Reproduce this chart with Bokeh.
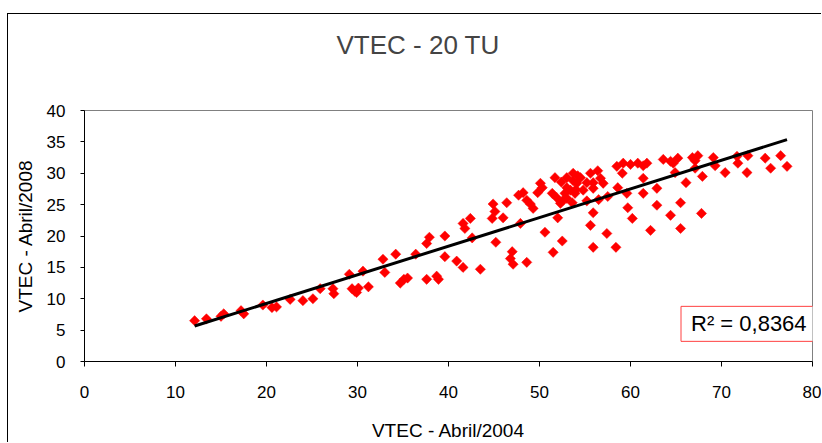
import numpy as np
from bokeh.plotting import figure
from bokeh.models import Label, Range1d, SingleIntervalTicker, ColumnDataSource, Title
from bokeh.embed import file_html
from bokeh.resources import INLINE

title_text = "VTEC - 20 TU"
x_label = "VTEC - Abril/2004"
y_label = "VTEC - Abril/2008"
r2_text = "R\u00b2 = 0,8364"

vtec_2004 = [12.1, 13.4, 15.0, 15.3, 17.2, 17.5, 19.6, 20.6, 21.1, 22.6, 24.0, 25.1, 25.9, 27.3, 27.4,
             29.1, 29.4, 29.7, 30.1, 29.9, 30.6, 31.2, 32.8, 33.0, 34.2, 34.7, 35.1, 35.5, 36.4, 37.6,
             37.6, 37.9, 38.7, 38.9, 39.6, 39.6, 40.9, 41.6, 41.6, 41.8, 42.4, 42.6, 43.5, 44.9, 45.1,
             44.8, 45.2, 46.0, 46.4, 47.0, 46.8, 47.1, 47.7, 48.2, 48.6, 49.0, 49.3, 47.9, 48.6, 49.8,
             50.1, 50.3, 50.6, 51.5, 51.4, 51.7, 52.0, 52.5,
             52.4, 53.0, 53.0, 53.4, 53.7, 53.7, 54.0, 54.1, 54.2, 54.5, 54.8, 55.2, 55.6, 55.9, 55.9,
             56.4, 56.7, 57.0, 52.8, 53.0, 53.9, 53.6, 52.6, 52.3, 51.9, 55.2, 56.5, 57.5,
             55.9, 55.6, 55.9, 57.4, 58.4, 58.5, 59.2, 60.0, 60.8, 61.4, 61.8, 59.1, 58.6, 59.6, 59.7,
             60.2, 61.4, 61.4, 62.2, 62.9, 62.9, 63.6, 64.4, 64.4, 65.2, 64.7, 64.9, 65.5, 65.5, 66.1,
             66.8, 67.4, 67.1, 67.1, 67.8, 67.9, 69.1, 69.3, 70.4, 71.7, 71.8, 72.8, 72.9, 74.8, 75.4,
             76.5, 77.2]
vtec_2008 = [6.5, 6.8, 7.2, 7.6, 8.1, 7.6, 9.0, 8.6, 8.7, 9.9, 9.7, 10.0, 11.6, 11.6, 10.8,
             13.9, 11.6, 11.2, 11.7, 11.0, 14.4, 11.9, 16.3, 14.2, 17.1, 12.5, 13.1, 13.3, 17.1, 13.1,
             18.8, 19.8, 13.6, 13.1, 20.0, 16.7, 16.0, 15.0, 22.0, 21.2, 22.8, 19.7, 14.7, 25.1, 23.9,
             22.8, 19.0, 22.9, 25.3, 17.5, 16.4, 15.5, 26.5, 26.9, 25.7, 25.1, 24.4, 22.0, 15.8, 26.9,
             28.4, 27.7, 20.6, 17.4, 26.8, 29.3, 22.9, 19.2,
             28.6, 29.3, 27.7, 27.3, 30.0, 28.8, 27.4, 28.4, 29.6, 29.3, 27.3, 28.5, 30.0, 28.5, 27.6,
             30.4, 29.2, 28.4, 26.8, 26.0, 26.8, 25.3, 25.7, 25.2, 26.1, 25.6, 25.8, 26.3,
             23.7, 21.7, 18.2, 20.4, 18.2, 31.1, 31.6, 31.4, 31.6, 31.2, 31.6, 30.0, 27.7, 26.8, 24.5,
             22.8, 29.2, 26.8, 20.9, 27.6, 24.9, 32.2, 23.3, 31.9, 32.4, 31.6, 30.1, 25.3, 21.2, 28.5,
             32.5, 32.8, 32.0, 30.8, 23.6, 29.5, 32.5, 31.2, 30.1, 32.7, 31.6, 30.1, 32.8, 32.4, 30.8,
             32.8, 31.1]

xa = np.array(vtec_2004)
ya = np.array(vtec_2008)
slope, intercept = np.polyfit(xa, ya, 1)
trend_x = [xa.min(), xa.max()]
trend_y = [slope * v + intercept for v in trend_x]

FONT = "Liberation Sans"

p = figure(width=814, height=429, output_backend="svg", toolbar_location=None,
           x_range=Range1d(0, 80), y_range=Range1d(0, 40),
           min_border_left=76, min_border_right=10, min_border_top=0, min_border_bottom=82)
p.styles = {"margin-left": "7px", "margin-top": "13px",
            "border-left": "1px solid black", "border-top": "1px solid black"}

p.background_fill_color = "white"
p.border_fill_color = "white"
p.outline_line_color = "#808080"
p.grid.visible = False

main_title = Title(text=title_text, text_font=FONT, text_font_size="26px",
                   text_font_style="normal", align="left", offset=252, standoff=26)
spacer = Title(text=" ", text_font=FONT, text_font_size="2px", standoff=34)
p.title = None
p.above = [spacer, main_title]

for ax in (p.xaxis[0], p.yaxis[0]):
    ax.axis_line_color = "black"
    ax.major_tick_line_color = "black"
    ax.minor_tick_line_color = None
    ax.major_tick_in = 0
    ax.major_label_text_font = FONT
    ax.major_label_text_font_size = "17px"
    ax.major_label_text_color = "black"
    ax.axis_label_text_font = FONT
    ax.axis_label_text_font_size = "19px"
    ax.axis_label_text_font_style = "normal"
    ax.axis_label_text_color = "black"

p.xaxis.ticker = SingleIntervalTicker(interval=10)
p.yaxis.ticker = SingleIntervalTicker(interval=5)
p.xaxis.major_tick_out = 5
p.yaxis.major_tick_out = 4
p.xaxis.major_label_standoff = 19
p.yaxis.major_label_standoff = 15
p.xaxis.axis_label = x_label
p.yaxis.axis_label = y_label
p.xaxis.axis_label_standoff = 19
p.yaxis.axis_label_standoff = 8

src = ColumnDataSource(dict(x=vtec_2004, y=vtec_2008))
p.scatter("x", "y", source=src, marker="square", angle=np.pi / 4, size=7.2,
          fill_color="#FF0000", line_color="#FF0000", line_width=0.5)
p.line(trend_x, trend_y, line_color="black", line_width=3)

r2 = Label(x=73.0, y=6.0, text=r2_text, text_align="center", text_baseline="middle",
           text_font=FONT, text_font_size="22px", text_color="black",
           border_line_color="#FF4040", border_line_width=1,
           background_fill_color="white", padding=(10, 5))
p.add_layout(r2)

open("out.html", "w").write(file_html(p, INLINE))
